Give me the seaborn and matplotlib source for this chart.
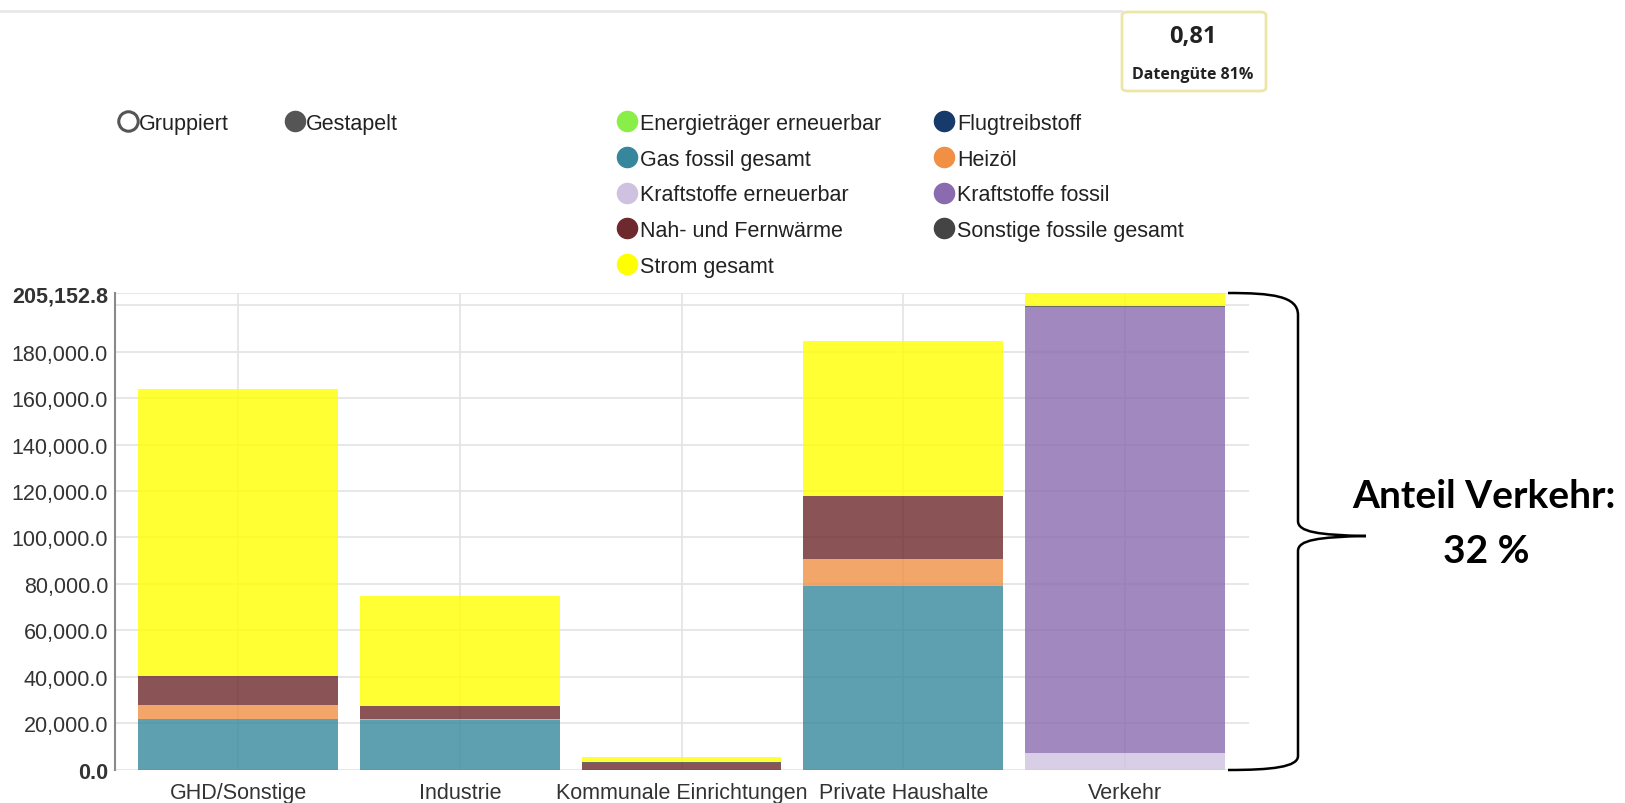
import numpy as np
import pandas as pd
import seaborn as sns
import matplotlib.pyplot as plt
from matplotlib.lines import Line2D
from matplotlib.patches import FancyBboxPatch, PathPatch
from matplotlib.path import Path

# Sektoren (x-Achse)
sektoren = ["GHD/Sonstige", "Industrie", "Kommunale Einrichtungen", "Private Haushalte", "Verkehr"]

# Endenergie je Energieträger und Sektor (aus dem Bild geschätzt)
energietraeger_erneuerbar = [0, 0, 0, 0, 0]
flugtreibstoff = [0, 0, 0, 0, 0]
gas_fossil = [21800, 21200, 0, 79300, 0]
heizoel = [6100, 500, 0, 11600, 0]
kraftstoffe_erneuerbar = [0, 0, 0, 0, 7400]
kraftstoffe_fossil = [0, 0, 0, 0, 191870]
fernwaerme = [12300, 5600, 3000, 26800, 0]
sonstige_fossil = [0, 0, 200, 0, 560]
strom = [123700, 47400, 2400, 67000, 5322.8]

datenguete = "0,81"
datenguete_text = "Datengüte 81%"
anteil_zeile1 = "Anteil Verkehr:"
anteil_zeile2 = "32 %"

# Reihenfolge von unten nach oben im Stapel
reihen = {
    "Kraftstoffe erneuerbar": kraftstoffe_erneuerbar,
    "Gas fossil gesamt": gas_fossil,
    "Heizöl": heizoel,
    "Kraftstoffe fossil": kraftstoffe_fossil,
    "Nah- und Fernwärme": fernwaerme,
    "Sonstige fossile gesamt": sonstige_fossil,
    "Flugtreibstoff": flugtreibstoff,
    "Energieträger erneuerbar": energietraeger_erneuerbar,
    "Strom gesamt": strom,
}

farben = {
    "Energieträger erneuerbar": "#8aee48",
    "Flugtreibstoff": "#163a6b",
    "Gas fossil gesamt": "#36879c",
    "Heizöl": "#f19045",
    "Kraftstoffe erneuerbar": "#cfc2e0",
    "Kraftstoffe fossil": "#8a6bb0",
    "Nah- und Fernwärme": "#6d292d",
    "Sonstige fossile gesamt": "#444444",
    "Strom gesamt": "#ffff00",
}

legende_reihenfolge = [
    "Energieträger erneuerbar", "Gas fossil gesamt", "Kraftstoffe erneuerbar",
    "Nah- und Fernwärme", "Strom gesamt",
    "Flugtreibstoff", "Heizöl", "Kraftstoffe fossil", "Sonstige fossile gesamt",
]

rows = []
for name, werte in reihen.items():
    for s, w in zip(sektoren, werte):
        rows.append({"Sektor": s, "Energieträger": name, "Wert": w})
df = pd.DataFrame(rows)

sns.set_style("white")
plt.rcParams["font.family"] = ["Liberation Sans", "DejaVu Sans"]

W, H = 1625, 804
fig = plt.figure(figsize=(W / 100, H / 100), dpi=100)


def fx(x):
    return x / W


def fy(y):
    return 1 - y / H


ax = fig.add_axes([fx(115), fy(770.7), fx(1249) - fx(115), fy(294.3) - fy(770.7)])

# seaborn stapelt die erste hue-Stufe oben, daher umgekehrte Reihenfolge
stapel = list(reihen.keys())[::-1]
sns.histplot(data=df, x="Sektor", hue="Energieträger", weights="Wert",
             multiple="stack", discrete=True, shrink=0.9,
             hue_order=stapel, palette=farben, alpha=0.8,
             linewidth=0, legend=False, ax=ax, zorder=2)

ymax = df.groupby("Sektor")["Wert"].sum().max()
ax.set_ylim(0, ymax)
ax.set_xlim(-0.556, 4.56)

ticks = list(range(0, 180001, 20000)) + [ymax]
ax.set_yticks(ticks)
ax.set_yticklabels([f"{t:,.1f}" for t in ticks])
ax.set_yticks([200000], minor=True)
ax.set_xticks(range(len(sektoren)))
ax.set_xticklabels(sektoren)
ax.set_xlabel("")
ax.set_ylabel("")

labels = ax.get_yticklabels()
labels[0].set_fontweight("bold")
labels[-1].set_fontweight("bold")

ax.tick_params(axis="y", length=0, pad=5, labelsize=15.5, labelcolor="#333333")
ax.tick_params(axis="x", length=0, pad=8.5, labelsize=15.5, labelcolor="#333333")
ax.tick_params(which="minor", length=0)

ax.grid(True, axis="y", which="both", color="#e3e3e3", lw=1.2, zorder=0)
ax.grid(True, axis="x", which="major", color="#e3e3e3", lw=1.2, zorder=0)
ax.set_axisbelow(True)
for side in ["top", "right", "bottom"]:
    ax.spines[side].set_visible(False)
ax.spines["left"].set_color("#8a8a8a")
ax.spines["left"].set_linewidth(1.5)

# Legende Energieträger
handles = [Line2D([], [], marker="o", ls="", markersize=14.5,
                  markerfacecolor=farben[n], markeredgecolor=farben[n])
           for n in legende_reihenfolge]
fig.legend(handles, legende_reihenfolge, ncol=2, loc="upper left",
           bbox_to_anchor=(fx(616), fy(114)), frameon=False,
           fontsize=15.5, handlelength=1.0, handletextpad=0.1,
           columnspacing=2.45, labelspacing=0.68, borderaxespad=0,
           borderpad=0, labelcolor="#222222")

# Gruppiert / Gestapelt
modus = [Line2D([], [], marker="o", ls="", markersize=14, markerfacecolor="white",
                markeredgecolor="#555555", markeredgewidth=2.2),
         Line2D([], [], marker="o", ls="", markersize=14.5,
                markerfacecolor="#555555", markeredgecolor="#555555")]
fig.legend(modus, ["Gruppiert", "Gestapelt"], ncol=2, loc="upper left",
           bbox_to_anchor=(fx(117), fy(114)), frameon=False,
           fontsize=15.5, handlelength=1.0, handletextpad=0.0,
           columnspacing=2.6, borderaxespad=0, borderpad=0,
           labelcolor="#222222")

# obere Trennlinie
fig.add_artist(Line2D([0, fx(1122)], [fy(12), fy(12)], color="#e8e8e8", lw=2))

# Datengüte-Kasten
box = FancyBboxPatch((fx(1122), fy(92)), fx(1266) - fx(1122), fy(13) - fy(92),
                     boxstyle="round,pad=0,rounding_size=0.004",
                     transform=fig.transFigure, facecolor="white",
                     edgecolor="#ece7a8", lw=2)
fig.add_artist(box)
fig.text(fx(1193), fy(37), datenguete, ha="center", va="center",
         fontsize=17, fontweight="bold", family="Open Sans", color="#222222")
fig.text(fx(1193), fy(75), datenguete_text, ha="center", va="center",
         fontsize=11.5, fontweight="bold", family="Open Sans", color="#222222")

# geschweifte Klammer
pts = [
    (1228, 294), (1272, 294), (1298, 297), (1298, 316),
    (1298, 522),
    (1298, 533), (1318, 536), (1366, 537),
    (1318, 538), (1298, 541), (1298, 552),
    (1298, 757),
    (1298, 768), (1272, 771), (1228, 771),
]
codes = [Path.MOVETO, Path.CURVE4, Path.CURVE4, Path.CURVE4,
         Path.LINETO,
         Path.CURVE4, Path.CURVE4, Path.CURVE4,
         Path.CURVE4, Path.CURVE4, Path.CURVE4,
         Path.LINETO,
         Path.CURVE4, Path.CURVE4, Path.CURVE4]
brace = Path([(fx(x), fy(y)) for x, y in pts], codes)
fig.add_artist(PathPatch(brace, transform=fig.transFigure, fill=False,
                         lw=1.8, edgecolor="black"))

fig.text(fx(1484), fy(497), anteil_zeile1, ha="center", va="center",
         fontsize=28, fontweight="bold", family="Lato", color="black")
fig.text(fx(1486), fy(552), anteil_zeile2, ha="center", va="center",
         fontsize=28, fontweight="bold", family="Lato", color="black")

fig.savefig("out.png", dpi=100)
